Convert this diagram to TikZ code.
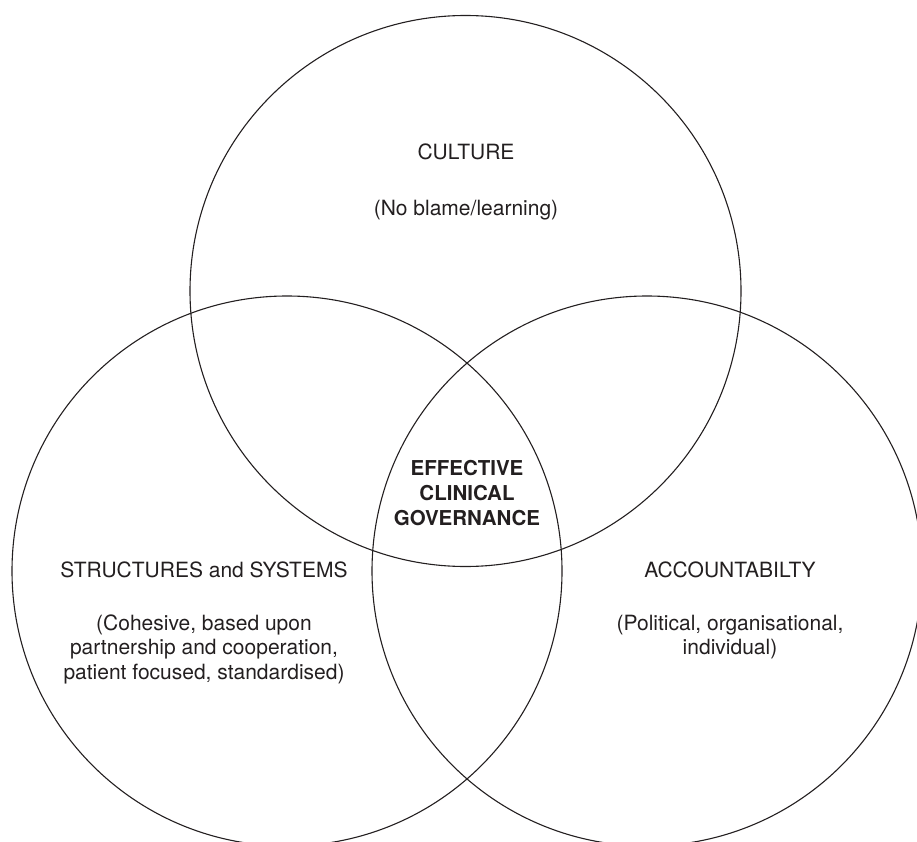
\documentclass[tikz,border=0pt]{standalone}
\usepackage{fontspec}
\setmainfont{TeX Gyre Heros}
\definecolor{ink}{HTML}{231F20}
\begin{document}
\begin{tikzpicture}[x=1pt,y=-1pt,
  ring/.style={draw=ink,line width=1.1pt},
  label/.style={inner sep=0pt,anchor=base,align=center,text=ink,
    font=\fontsize{21}{24.5}\selectfont},
  core/.style={label,font=\fontsize{20.5}{25}\selectfont\bfseries}]
\useasboundingbox (0,0) rectangle (917,842);
\clip (0,0) rectangle (917,842);
\draw[ring] (465.5,291) circle[radius=275.5];
\draw[ring] (287,571) circle[radius=275];
\draw[ring] (647,571) circle[radius=275];
\node[label] (cult) at (466,160) {CULTURE};
\node[label] (cultd) at (466,215) {(No blame/learning)};
\node[label] (str) at (204,577.5) {STRUCTURES and SYSTEMS};
\node[label] (strd) at (204,679) {(Cohesive, based upon\\partnership and cooperation,\\patient focused, standardised)};
\node[label] (acc) at (730,577) {ACCOUNTABILTY};
\node[label] (accd) at (730,654.5) {(Political, organisational,\\individual)};
\node[core] (ecg) at (467,525.5) {EFFECTIVE\\CLINICAL\\GOVERNANCE};
\end{tikzpicture}
\end{document}
